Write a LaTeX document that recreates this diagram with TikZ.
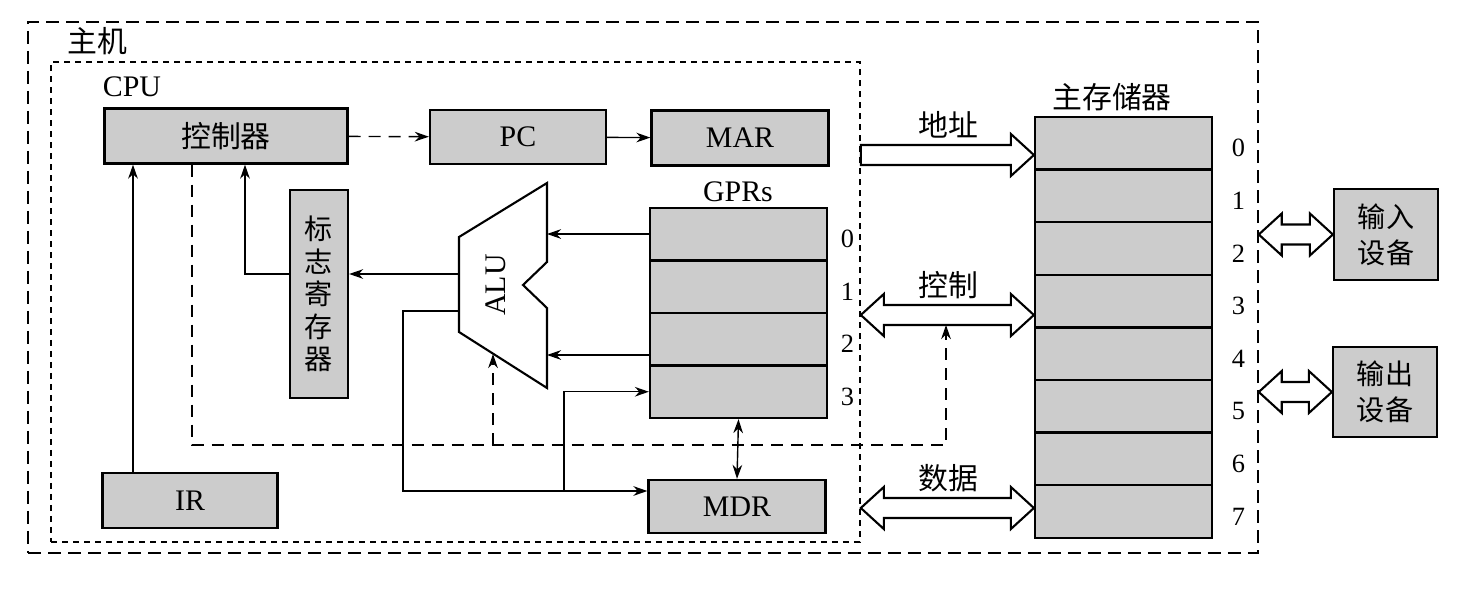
\documentclass[tikz,border=0pt]{standalone}
\usepackage{fontspec}
\setmainfont{Liberation Serif}
\newfontfamily\cjk{Noto Sans CJK SC}
\usetikzlibrary{calc, positioning, arrows.meta}

\newcommand{\busone}[2]{%
  \draw [bus] (#1) -- ++(0,-10) -- ($(#2)+(-23,-10)$) -- ++(0,-11) -- (#2)
    -- ++(-23,21) -- ++(0,-11) -- ($(#1)+(0,10)$) -- cycle;}
\newcommand{\bustwo}[2]{%
  \draw [bus] (#1) -- ++(23,-21) -- ++(0,11) -- ($(#2)+(-23,-10)$) -- ++(0,-11) -- (#2)
    -- ++(-23,21) -- ++(0,-11) -- ($(#1)+(23,10)$) -- ++(0,11) -- cycle;}

\begin{document}
\begin{tikzpicture}[x=0.02cm, y=-0.02cm, every node/.style={font=\fontsize{17}{20}\selectfont}]
    \tikzstyle{reg} = [rectangle, draw=black, fill=gray!40, line width=1.3pt, inner sep=0pt]
    \tikzstyle{frame} = [rectangle, draw=black, inner sep=0pt, line width=1pt]
    \tikzstyle{arrow} = [->, >={Stealth[length=8pt, width=5.5pt]}, line width=0.8pt]
    \tikzstyle{ctl} = [arrow, dash pattern=on 0.24cm off 0.16cm]
    \tikzstyle{bus} = [line width=1.2pt, fill=white, line join=miter]
    \tikzstyle{num} = [inner sep=0pt, font=\fontsize{15}{18}\selectfont]

    \useasboundingbox (0,0) rectangle (1476,588);

    \node (host) [frame, dash pattern=on 0.26cm off 0.14cm, minimum width=24.6cm, minimum height=10.62cm] at (643,287.5) {};
    \node (cpu) [frame, dash pattern=on 0.12cm off 0.1cm, minimum width=16.18cm, minimum height=9.6cm] at (455.5,302) {};
    \node (hostlbl) at (97,41) {\cjk 主机};
    \node (cpulbl) at (132,87) {CPU};

    \node (ctrl) [reg, minimum width=4.86cm, minimum height=1.1cm] at (226,136) {\cjk 控制器};
    \node (pc) [reg, minimum width=3.52cm, minimum height=1.08cm] at (518,137) {PC};
    \node (mar) [reg, minimum width=3.54cm, minimum height=1.1cm] at (740,138) {MAR};
    \node (flag) [reg, minimum width=1.16cm, minimum height=4.16cm, align=center, font=\cjk\fontsize{16}{18.5}\selectfont] at (319,294) {标\\志\\寄\\存\\器};
    \node (ir) [reg, minimum width=3.5cm, minimum height=1.1cm] at (190,500.5) {IR};
    \node (mdr) [reg, minimum width=3.54cm, minimum height=1.06cm] at (737,506.5) {MDR};

    \node (gprlbl) at (738,192) {GPRs};
    \foreach \i in {0,...,3} {
        \node (gpr\i) [reg, minimum width=3.54cm, minimum height=1.05cm] at (738.5,{208+52.5*(\i+0.5)}) {};
        \node (gnum\i) [num, right=0.25cm of gpr\i, yshift=-0.1cm] {\i};
    }

    \node (memlbl) at (1112,97) {\cjk 主存储器};
    \foreach \i in {0,...,7} {
        \node (mem\i) [reg, minimum width=3.54cm, minimum height=1.052cm] at (1123.5,{117+52.6*(\i+0.5)}) {};
        \node (mnum\i) [num, right=0.37cm of mem\i, yshift=-0.1cm] {\i};
    }

    \node (in) [reg, minimum width=2.08cm, minimum height=1.82cm, align=center, font=\cjk\fontsize{16}{20.5}\selectfont] at (1386,234.5) {输入\\设备};
    \node (out) [reg, minimum width=2.08cm, minimum height=1.8cm, align=center, font=\cjk\fontsize{16}{20.5}\selectfont] at (1385,392) {输出\\设备};

    \draw [line width=1.2pt] (547,183) -- (459,237) -- (459,332) -- (547,388) -- (547,308) -- (523,285) -- (547,262) -- cycle;
    \node (alu) [rotate=90] at (496,285) {ALU};
    \coordinate (alu-a) at (547,234);
    \coordinate (alu-b) at (547,355);
    \coordinate (alu-o) at (459,274);
    \coordinate (alu-r) at (459,311);
    \coordinate (alu-c) at (493,354);

    \draw [ctl] (ctrl) -- (pc);
    \draw [arrow] (pc) -- (mar);
    \draw [arrow] (gpr0.west |- alu-a) -- (alu-a);
    \draw [arrow] (gpr2.west |- alu-b) -- (alu-b);
    \draw [arrow] (alu-o) -- (alu-o -| flag.east);
    \coordinate (xf) at (245,0);
    \draw [arrow] (alu-o -| flag.west) -| (ctrl.south -| xf);
    \coordinate (xi) at (133,0);
    \draw [arrow] (ir.north -| xi) -- (ctrl.south -| xi);

    \coordinate (rb) at (403,491);
    \coordinate (rs) at (564,491);
    \draw [arrow] (alu-r) -| (rb) -- (rb -| mdr.west);
    \draw [arrow] (rs) |- (gpr3.west);
    \draw [arrow, <->] (gpr3.south) -- (mdr.north);

    \coordinate (dl) at (192,445);
    \coordinate (dr) at (946,445);
    \coordinate (ctlbus) at (946,325);
    \draw [ctl] (ctrl.south -| dl) -- (dl) -- (dr) -- (ctlbus);
    \draw [ctl] (dl -| alu-c) -- (alu-c);

    \coordinate (adr-s) at (cpu.east |- 0,155);
    \coordinate (adr-t) at (mem0.west |- 0,155);
    \coordinate (cbus-s) at (cpu.east |- 0,315);
    \coordinate (cbus-t) at (mem3.west |- 0,315);
    \coordinate (dat-s) at (cpu.east |- 0,508);
    \coordinate (dat-t) at (mem7.west |- 0,508);
    \coordinate (in-s) at (host.east |- in.west);
    \coordinate (out-s) at (host.east |- out.west);
    \busone{adr-s}{adr-t}
    \bustwo{cbus-s}{cbus-t}
    \bustwo{dat-s}{dat-t}
    \bustwo{in-s}{in.west}
    \bustwo{out-s}{out.west}
    \node (adrlbl) at (948,125) {\cjk 地址};
    \node (cbuslbl) at (948,285) {\cjk 控制};
    \node (datlbl) at (948,478) {\cjk 数据};
\end{tikzpicture}
\end{document}
